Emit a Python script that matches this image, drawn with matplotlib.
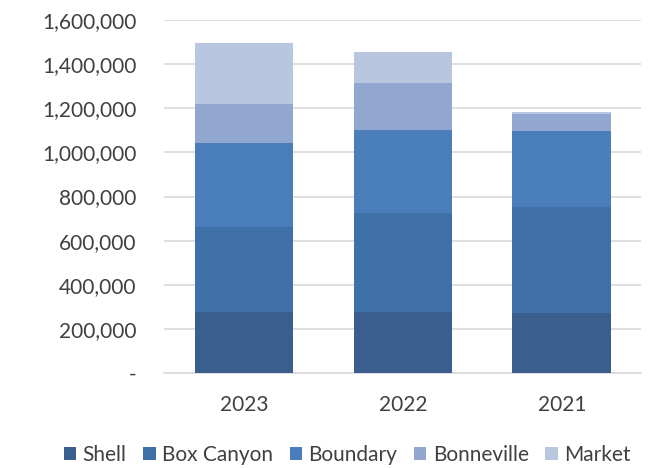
import matplotlib
matplotlib.use("Agg")
import matplotlib.pyplot as plt
from matplotlib.ticker import FuncFormatter

plt.rcParams['font.family'] = ['Lato', 'DejaVu Sans']

years = ['2023', '2022', '2021']
series = ['Shell', 'Box Canyon', 'Boundary', 'Bonneville', 'Market']
shell = [277000, 277000, 272000]
box_canyon = [385000, 449000, 481000]
boundary = [381000, 376000, 344000]
bonneville = [177000, 213000, 78000]
market = [277000, 141000, 10000]
colors = ['#3A5F8E', '#4070A8', '#4A7EBB', '#92A7CF', '#B9C6DF']

fig = plt.figure(figsize=(6.55, 4.68), dpi=100)
ax = fig.add_axes([0.251, 0.203, 0.728, 0.754])

x = range(len(years))
bottom = [0, 0, 0]
for name, vals, c in zip(series, [shell, box_canyon, boundary, bonneville, market], colors):
    ax.bar(x, vals, width=0.62, bottom=bottom, color=c, label=name, zorder=3)
    bottom = [b + v for b, v in zip(bottom, vals)]

ax.set_xlim(-0.5, 2.5)
ax.set_ylim(0, 1600000)
ax.set_yticks(range(0, 1600001, 200000))
ax.yaxis.set_major_formatter(FuncFormatter(lambda v, p: '-' if v == 0 else f'{int(v):,}'))
ax.set_xticks(list(x))
ax.set_xticklabels(years)
ax.grid(axis='y', color='#D9D9D9', linewidth=1.2, zorder=0)
for s in ['top', 'right', 'left']:
    ax.spines[s].set_visible(False)
ax.spines['bottom'].set_color('#D9D9D9')
ax.spines['bottom'].set_linewidth(1.2)
ax.tick_params(axis='both', length=0, labelsize=15, colors='#404040')
ax.tick_params(axis='y', pad=20)
ax.tick_params(axis='x', pad=16)

fig.legend(loc='center', bbox_to_anchor=(0.53, 0.028), ncol=5, frameon=False,
           fontsize=15, handlelength=0.6, handleheight=0.6, handletextpad=0.3,
           columnspacing=0.8, labelcolor='#404040')

fig.savefig('out.png', dpi=100)
